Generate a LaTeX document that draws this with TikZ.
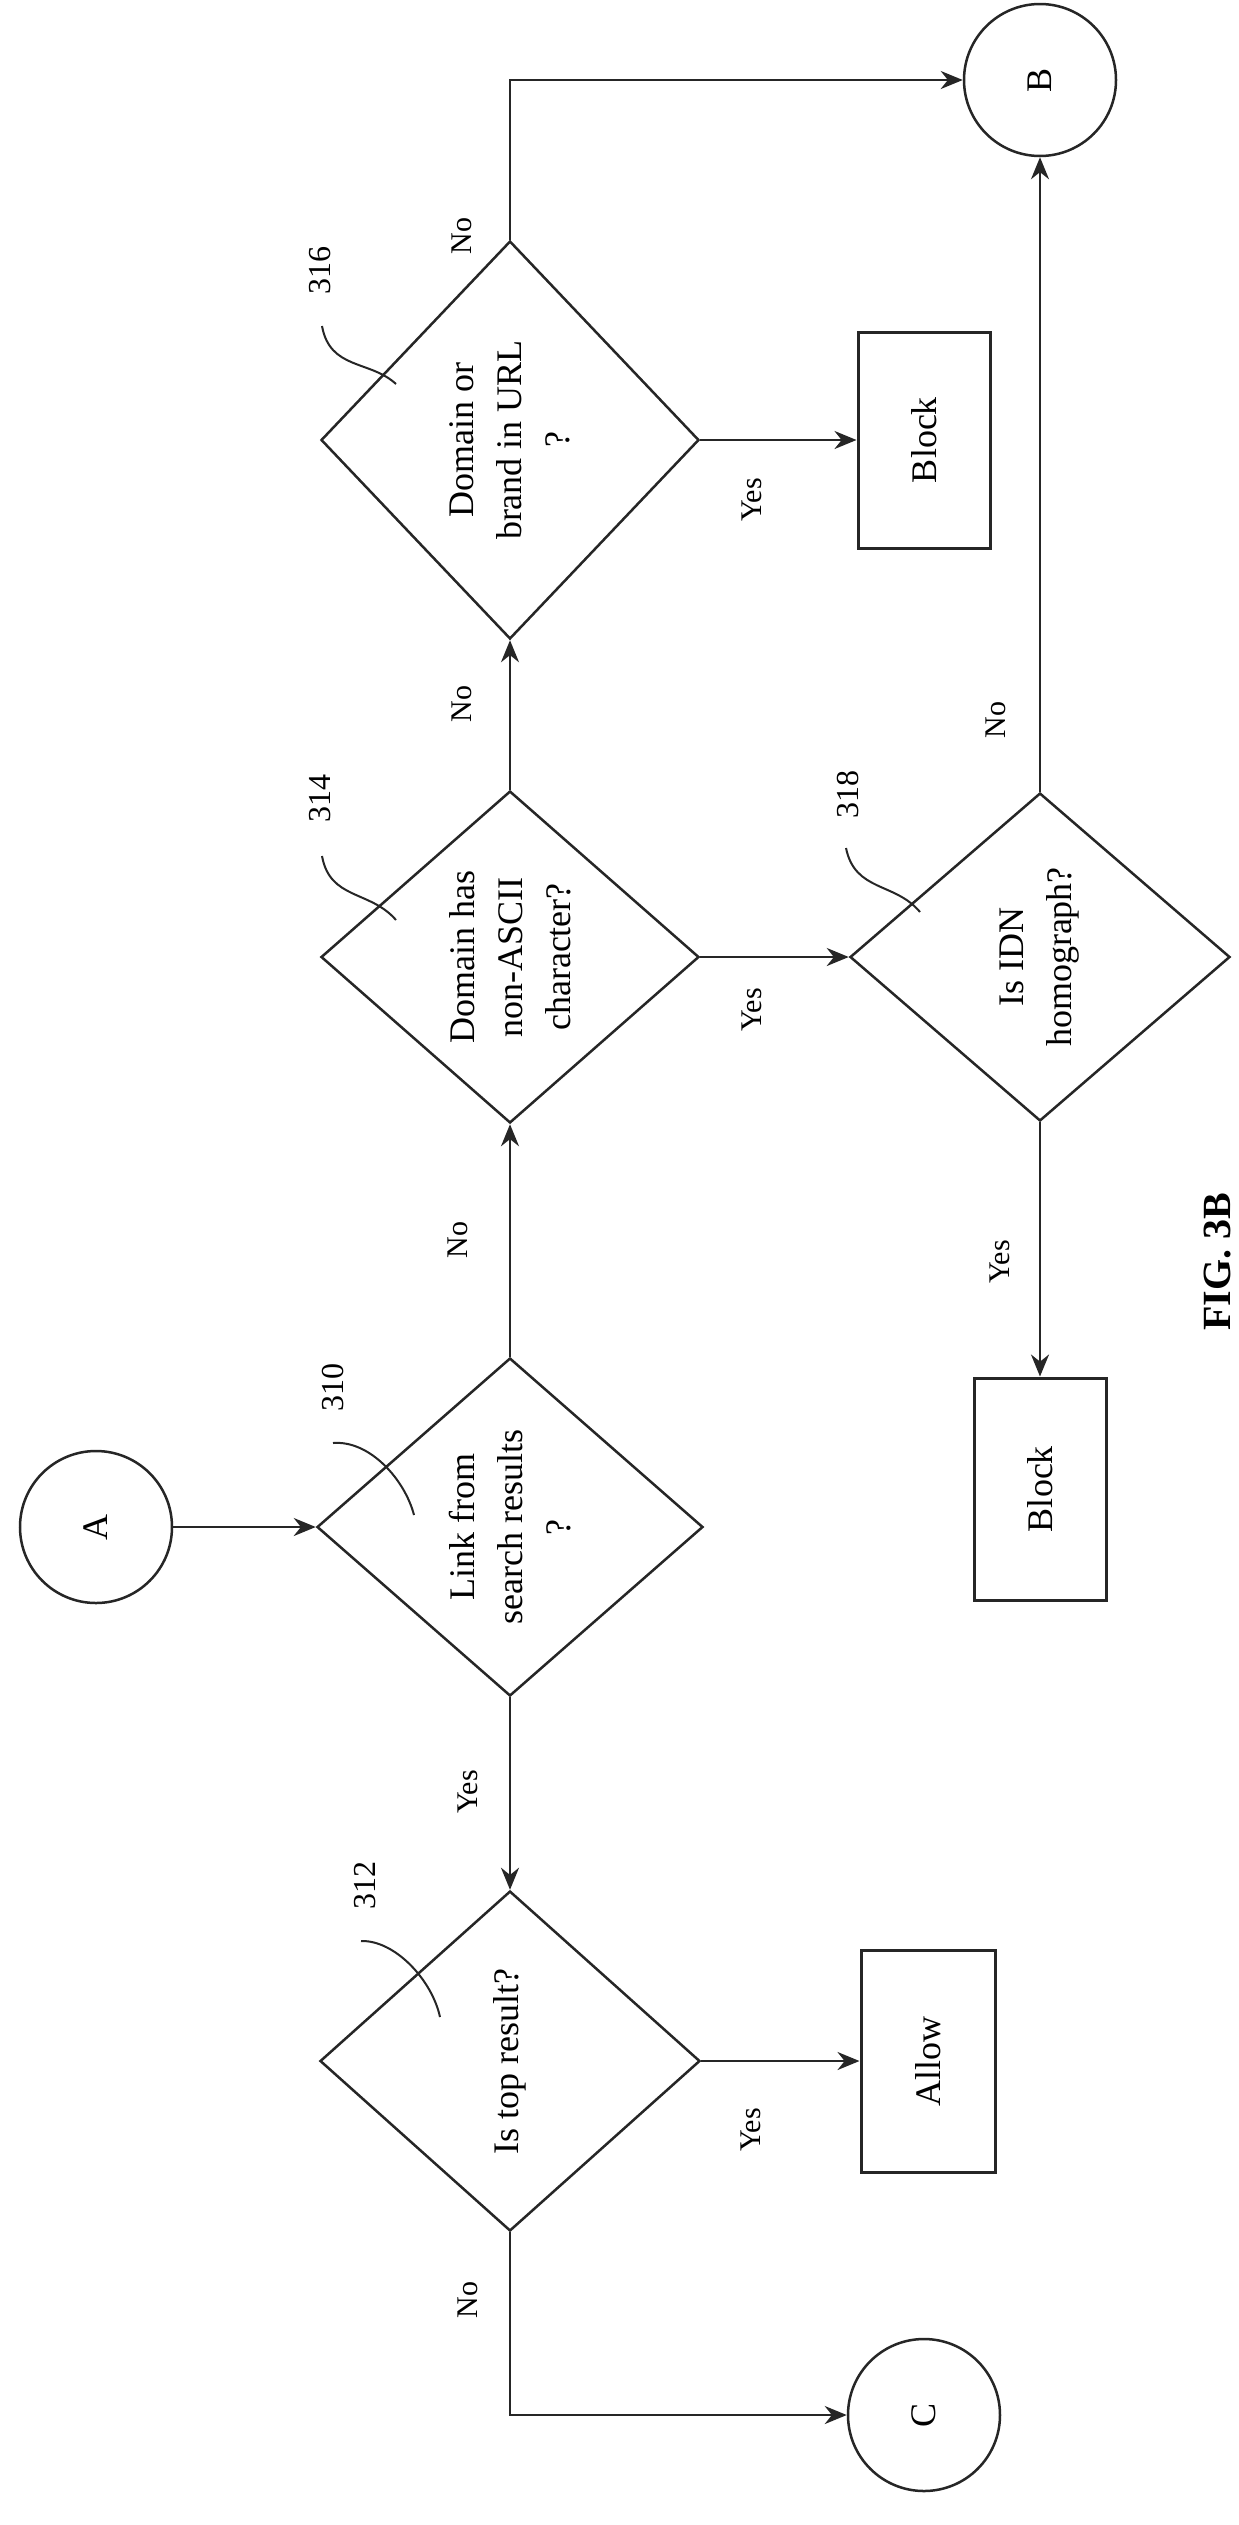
\documentclass[tikz,border=0pt]{standalone}
\usepackage{fontspec}
\setmainfont{Liberation Serif}
\usetikzlibrary{shapes.geometric,arrows.meta}
\begin{document}
\begin{tikzpicture}[x=1pt,y=-1pt,
  every node/.style={rotate=90,inner sep=0pt,font=\fontsize{36}{48}\selectfont,align=center},
  line/.style={line width=2.5pt,draw=black!85},
  arr/.style={line,-{Stealth[length=22pt,width=18pt]}},
  dia/.style={diamond,draw=black!85,line width=2.5pt},
  box/.style={rectangle,draw=black!85,line width=3pt},
  circ/.style={circle,draw=black!85,line width=2.5pt,minimum size=152pt},
  lab/.style={font=\fontsize{30}{36}\selectfont},
  num/.style={font=\fontsize{32}{36}\selectfont}]
\useasboundingbox[fill=white] (0,0) rectangle (1239,2525);
\node[circ] (A) at (96,1527) {A};
\node[circ] (B) at (1040,80) {B};
\node[circ] (C) at (924,2415) {C};
\node[dia,minimum width=338pt,minimum height=386pt] (d310) at (510,1527) {Link from\\search results\\?};
\node[dia,minimum width=340pt,minimum height=380pt] (d312) at (510,2061) {Is top result?};
\node[dia,minimum width=332pt,minimum height=378pt] (d314) at (510,957) {Domain has\\non-ASCII\\character?};
\node[dia,minimum width=398pt,minimum height=378pt] (d316) at (510,440) {Domain or\\brand in URL\\?};
\node[dia,minimum width=328pt,minimum height=380pt] (d318) at (1040,957) {Is IDN\\homograph?};
\node[box,minimum width=216pt,minimum height=132pt] (blk1) at (924,440) {Block};
\node[box,minimum width=222pt,minimum height=134pt] (allow) at (928,2061) {Allow};
\node[box,minimum width=222pt,minimum height=132pt] (blk2) at (1040,1489) {Block};
\draw[arr] (A) -- (d310.north);
\draw[arr] (d310.west) -- (d312.east);
\draw[arr] (d310.east) -- (d314.west);
\draw[arr] (d314.east) -- (d316.west);
\draw[arr] (d316.east) |- (B);
\draw[arr] (d316.south) -- (blk1);
\draw[arr] (d314.south) -- (d318.north);
\draw[arr] (d318.east) -- (B);
\draw[arr] (d318.west) -- (blk2);
\draw[arr] (d312.south) -- (allow);
\draw[arr] (d312.west) |- (C);
\node[lab] (l1) at (462,236) {No};
\node[lab] (l2) at (462,704) {No};
\node[lab] (l3) at (458,1240) {No};
\node[lab] (l4) at (752,500) {Yes};
\node[lab] (l5) at (752,1010) {Yes};
\node[lab] (l6) at (996,720) {No};
\node[lab] (l7) at (1000,1262) {Yes};
\node[lab] (l8) at (468,1792) {Yes};
\node[lab] (l9) at (751,2130) {Yes};
\node[lab] (l10) at (468,2300) {No};
\node[num] (n316) at (320,270) {316};
\node[num] (n314) at (320,798) {314};
\node[num] (n318) at (848,794) {318};
\node[num] (n310) at (333,1387) {310};
\node[num] (n312) at (365,1885) {312};
\draw[line,line width=2pt] (322,326) .. controls (330,370) and (370,360) .. (396,384);
\draw[line,line width=2pt] (322,856) .. controls (330,900) and (370,890) .. (396,920);
\draw[line,line width=2pt] (846,848) .. controls (855,892) and (895,882) .. (920,912);
\draw[line,line width=2pt] (333,1443) .. controls (370,1440) and (405,1480) .. (414,1515);
\draw[line,line width=2pt] (361,1941) .. controls (395,1940) and (432,1980) .. (440,2017);
\node[font=\bfseries\fontsize{40}{44}\selectfont] (fig) at (1218,1262) {FIG. 3B};
\end{tikzpicture}
\end{document}
